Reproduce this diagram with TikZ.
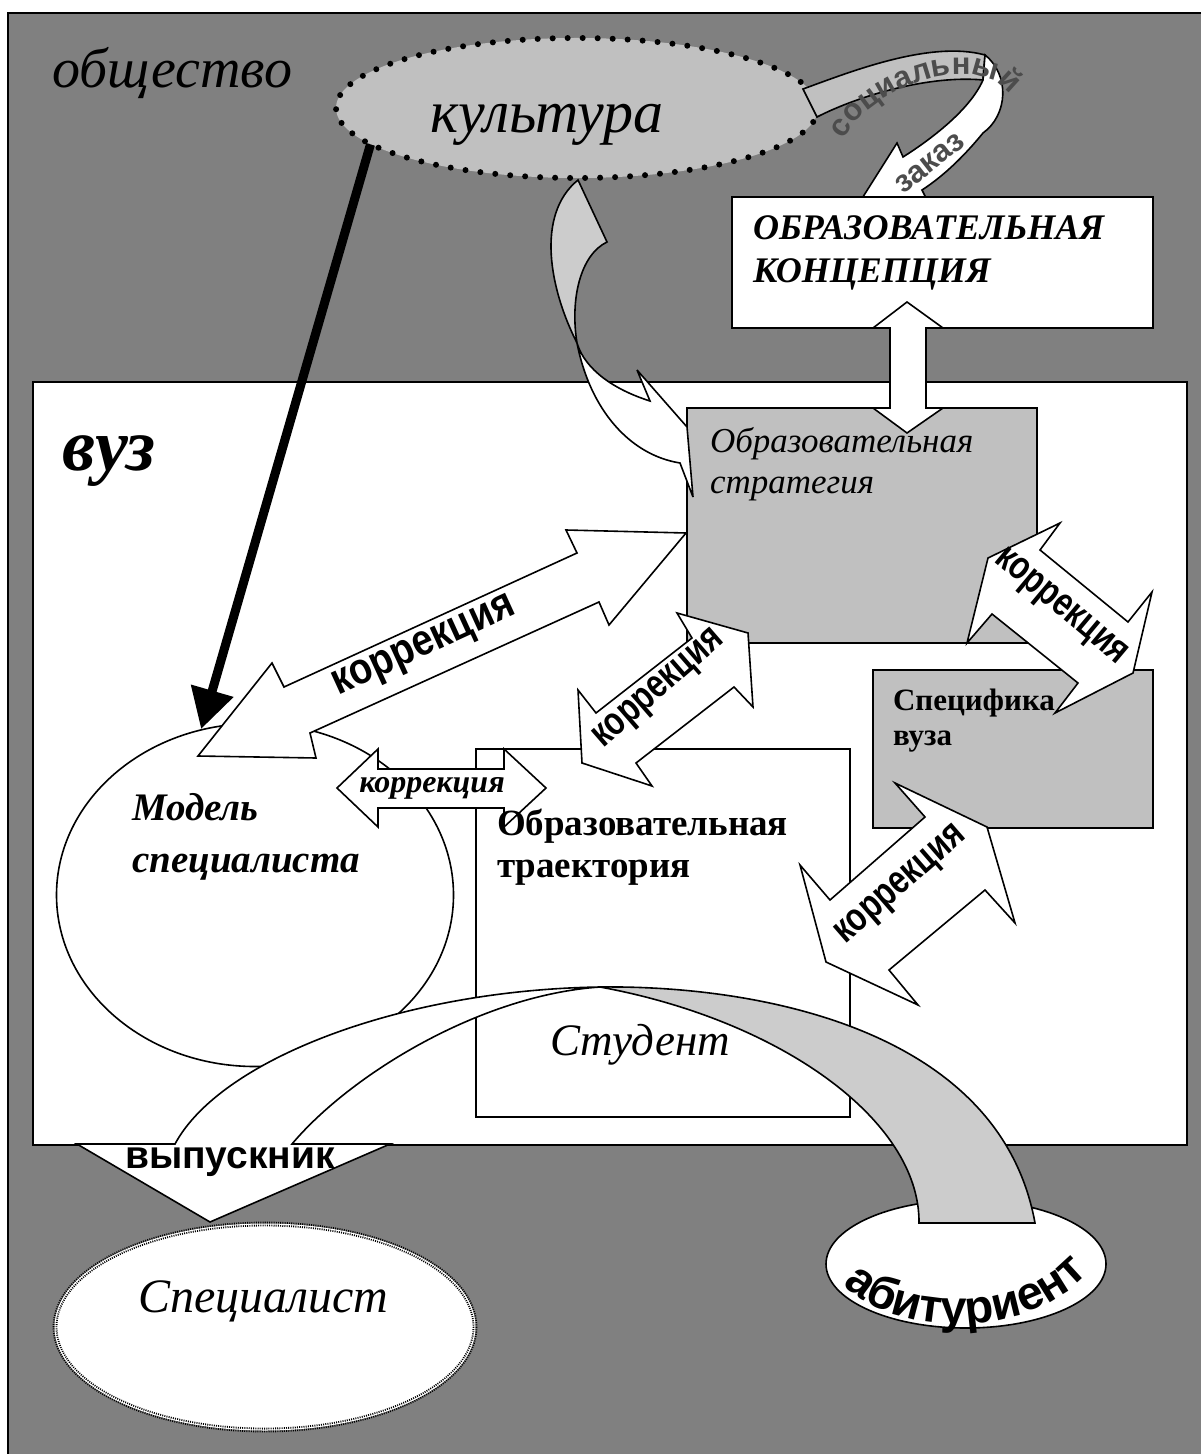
\documentclass[tikz,border=0pt]{standalone}
\usepackage{fontspec}
\setmainfont{Liberation Serif}
\newfontfamily\arialfont{Liberation Sans}
\usetikzlibrary{shapes.geometric, arrows.meta, decorations.text}

\definecolor{societygray}{HTML}{808080}
\definecolor{panelgray}{HTML}{C0C0C0}
\definecolor{ribbongray}{HTML}{CCCCCC}

\begin{document}
\begin{tikzpicture}[x=0.5pt, y=-0.5pt,
  edge/.style={draw=black, line width=0.8pt, line join=miter, miter limit=6},
  shapebox/.style={edge, inner sep=0pt, outer sep=0pt, anchor=north west},
  lbl/.style={inner sep=0pt, outer sep=0pt, anchor=base west},
  corrfont/.style={inner sep=0pt, outer sep=0pt, font=\arialfont\bfseries\fontsize{20}{20}\selectfont},
  blockarrow/.style={edge, fill=white},
]
\useasboundingbox (0,0) rectangle (1201,1454);

% society background
\fill[societygray] (8,13) rectangle (1201,1454);
\draw[line width=0.8pt] (1201,13) -- (8,13) -- (8,1454);
\node[lbl, font=\itshape\fontsize{28}{28}\selectfont] (society) at (52,88) {общество};

% culture
\node[ellipse, fill=panelgray, minimum width=241pt, minimum height=70pt, inner sep=0pt] (culture) at (577,108) {};
\draw[line width=3pt, dash pattern=on 0pt off 7.5pt, line cap=round] (culture.center) ellipse [x radius=241, y radius=70];
\node[lbl, font=\itshape\fontsize{30}{30}\selectfont] (culturetext) at (430,133) {культура};

% social order ribbon
\filldraw[edge, fill=panelgray] (803,89) .. controls (850,72) and (930,40) .. (985,55) -- (983,80) .. controls (930,75) and (860,95) .. (817,117) -- cycle;
\filldraw[edge, fill=white] (985,55) .. controls (1010,75) and (1008,115) .. (983,133) .. controls (965,155) and (945,175) .. (922,190) -- (926,198) -- (861,200) -- (897,143) -- (903,157) .. controls (930,140) and (970,110) .. (983,80) -- cycle;
\path[decorate, decoration={text along path, text color=black!70, text align=center,
  text={|\arialfont\bfseries\fontsize{15.5}{15.5}\selectfont|социальный}}]
  (840,150) .. controls (855,90) and (990,40) .. (1015,105);
\node[inner sep=0pt, font=\arialfont\bfseries\fontsize{15.5}{15.5}\selectfont, text=black!70, rotate=38] (ordertext) at (930,163) {заказ};

% educational concept
\node[shapebox, fill=white, minimum width=210.5pt, minimum height=65.5pt] (concept) at (732,197) {};
\node[lbl, font=\bfseries\itshape\fontsize{18}{18}\selectfont] (concept1) at (753,240) {ОБРАЗОВАТЕЛЬНАЯ};
\node[lbl, font=\bfseries\itshape\fontsize{18}{18}\selectfont] (concept2) at (753,283) {КОНЦЕПЦИЯ};

% university
\node[shapebox, fill=white, minimum width=577pt, minimum height=381.5pt] (vuz) at (33,382) {};
\node[lbl, font=\bfseries\itshape\fontsize{37}{37}\selectfont] (vuztext) at (62,470) {вуз};

% educational strategy
\node[shapebox, fill=panelgray, minimum width=175pt, minimum height=117.5pt] (strategy) at (687,408) {};

% curved arrow culture -> strategy
\filldraw[edge, fill=ribbongray] (578,180) -- (607,242) .. controls (580,255) and (570,300) .. (577,343) .. controls (550,290) and (535,215) .. (578,180) -- cycle;
\filldraw[blockarrow] (577,343) .. controls (590,410) and (630,455) .. (680,463) -- (693,497) -- (687,427) -- (637,370) -- (650,401) .. controls (615,390) and (585,370) .. (577,343) -- cycle;

% concept <-> strategy
\filldraw[blockarrow] (907,302) -- (943,328) -- (926,328) -- (926,408) -- (943,408) -- (907,433) -- (873,408) -- (890,408) -- (890,328) -- (873,328) -- cycle;

% university specifics
\node[shapebox, fill=panelgray, minimum width=140pt, minimum height=79pt] (specific) at (873,670) {};
\filldraw[blockarrow] (967,643) -- (988,558) -- (1060,523) -- (1040,550) -- (1128,622) -- (1152,592) -- (1133,673) -- (1055,713) -- (1078,683) -- (992,614) -- cycle;

% trajectory and specialist model
\node[shapebox, fill=white, minimum width=187pt, minimum height=184pt] (trajectory) at (476,749) {};
\node[ellipse, edge, fill=white, minimum width=198.5pt, minimum height=171.5pt, inner sep=0pt] (model) at (255,895) {};

% correction arrows
\filldraw[blockarrow] (337,788) -- (378,749) -- (378,769) -- (504,769) -- (504,749) -- (546,788) -- (504,827) -- (504,808) -- (378,808) -- (378,827) -- cycle;
\filldraw[blockarrow] (582,763) -- (578,690) -- (596,713) -- (692,638) -- (677,613) -- (748,633) -- (753,707) -- (734,687) -- (636,763) -- (652,786) -- cycle;
\filldraw[blockarrow] (800,865) -- (830,900) -- (925,817) -- (895,783) -- (987,827) -- (1015,923) -- (985,890) -- (889,970) -- (918,1005) -- (826,962) -- cycle;
\filldraw[blockarrow] (198,756) -- (272,663) -- (284,687) -- (577,553) -- (566,530) -- (686,533) -- (609,625) -- (599,602) -- (310,733) -- (316,758) -- cycle;

% culture -> model
\draw[line width=4.5pt, -{Triangle[length=20pt, width=21pt]}] (culture.190) -- (model.108);

% applicant and graduate ribbon
\node[ellipse, edge, fill=white, minimum width=140pt, minimum height=64pt, inner sep=0pt] (applicant) at (966,1264) {};
\filldraw[edge, fill=white] (77,1144) -- (175,1144) .. controls (220,1060) and (400,990) .. (600,987) .. controls (480,995) and (350,1075) .. (292,1144) -- (390,1144) -- (210,1222) -- cycle;
\filldraw[edge, fill=ribbongray] (600,987) .. controls (760,985) and (1000,1030) .. (1035,1223) -- (919,1223) .. controls (920,1120) and (780,1020) .. (600,987) -- cycle;
\path[decorate, decoration={text along path, text align=center,
  text={|\arialfont\bfseries\fontsize{23.5}{23.5}\selectfont|абитуриент}}]
  (828,1268) .. controls (875,1342) and (1045,1347) .. (1102,1255);

% specialist
\node[ellipse, fill=white, minimum width=210pt, minimum height=103pt, inner sep=0pt] (specialist) at (265,1327) {};
\draw[line width=2.4pt, dash pattern=on 0.5pt off 0.6pt] (specialist.center) ellipse [x radius=210, y radius=103];
\draw[white, line width=0.5pt] (specialist.center) ellipse [x radius=210, y radius=103];

% labels
\node[lbl, font=\itshape\fontsize{17.5}{17.5}\selectfont] (strategy1) at (710,452) {Образовательная};
\node[lbl, font=\itshape\fontsize{17.5}{17.5}\selectfont] (strategy2) at (710,493) {стратегия};
\node[lbl, font=\bfseries\fontsize{15.5}{15.5}\selectfont] (specific1) at (893,710) {Специфика};
\node[lbl, font=\bfseries\fontsize{15.5}{15.5}\selectfont] (specific2) at (893,745) {вуза};
\node[lbl, font=\bfseries\fontsize{18.5}{18.5}\selectfont] (trajectory1) at (497,835) {Образовательная};
\node[lbl, font=\bfseries\fontsize{18.5}{18.5}\selectfont] (trajectory2) at (497,877) {траектория};
\node[lbl, font=\bfseries\itshape\fontsize{19.5}{19.5}\selectfont] (model1) at (132,820) {Модель};
\node[lbl, font=\bfseries\itshape\fontsize{19.5}{19.5}\selectfont] (model2) at (132,872) {специалиста};
\node[lbl, font=\itshape\fontsize{22.5}{22.5}\selectfont] (student) at (550,1055) {Студент};
\node[lbl, font=\itshape\fontsize{24}{24}\selectfont] (specialisttext) at (138,1312) {Специалист};
\node[inner sep=0pt, anchor=base, font=\arialfont\bfseries\fontsize{19.5}{19.5}\selectfont] (graduate) at (230,1168) {выпускник};

\node[inner sep=0pt, font=\bfseries\itshape\fontsize{16}{16}\selectfont] (corrsmall) at (432,788) {коррекция};
\node[corrfont, font=\arialfont\bfseries\fontsize{22}{22}\selectfont, rotate=24.6, xscale=0.86] (corrbig) at (425,648) {коррекция};
\node[corrfont, rotate=41, xscale=0.78] (corrmid) at (660,690) {коррекция};
\node[corrfont, rotate=-40, xscale=0.78] (corrupper) at (1060,608) {коррекция};
\node[corrfont, rotate=41, xscale=0.78] (corrlower) at (902,886) {коррекция};
\end{tikzpicture}
\end{document}
